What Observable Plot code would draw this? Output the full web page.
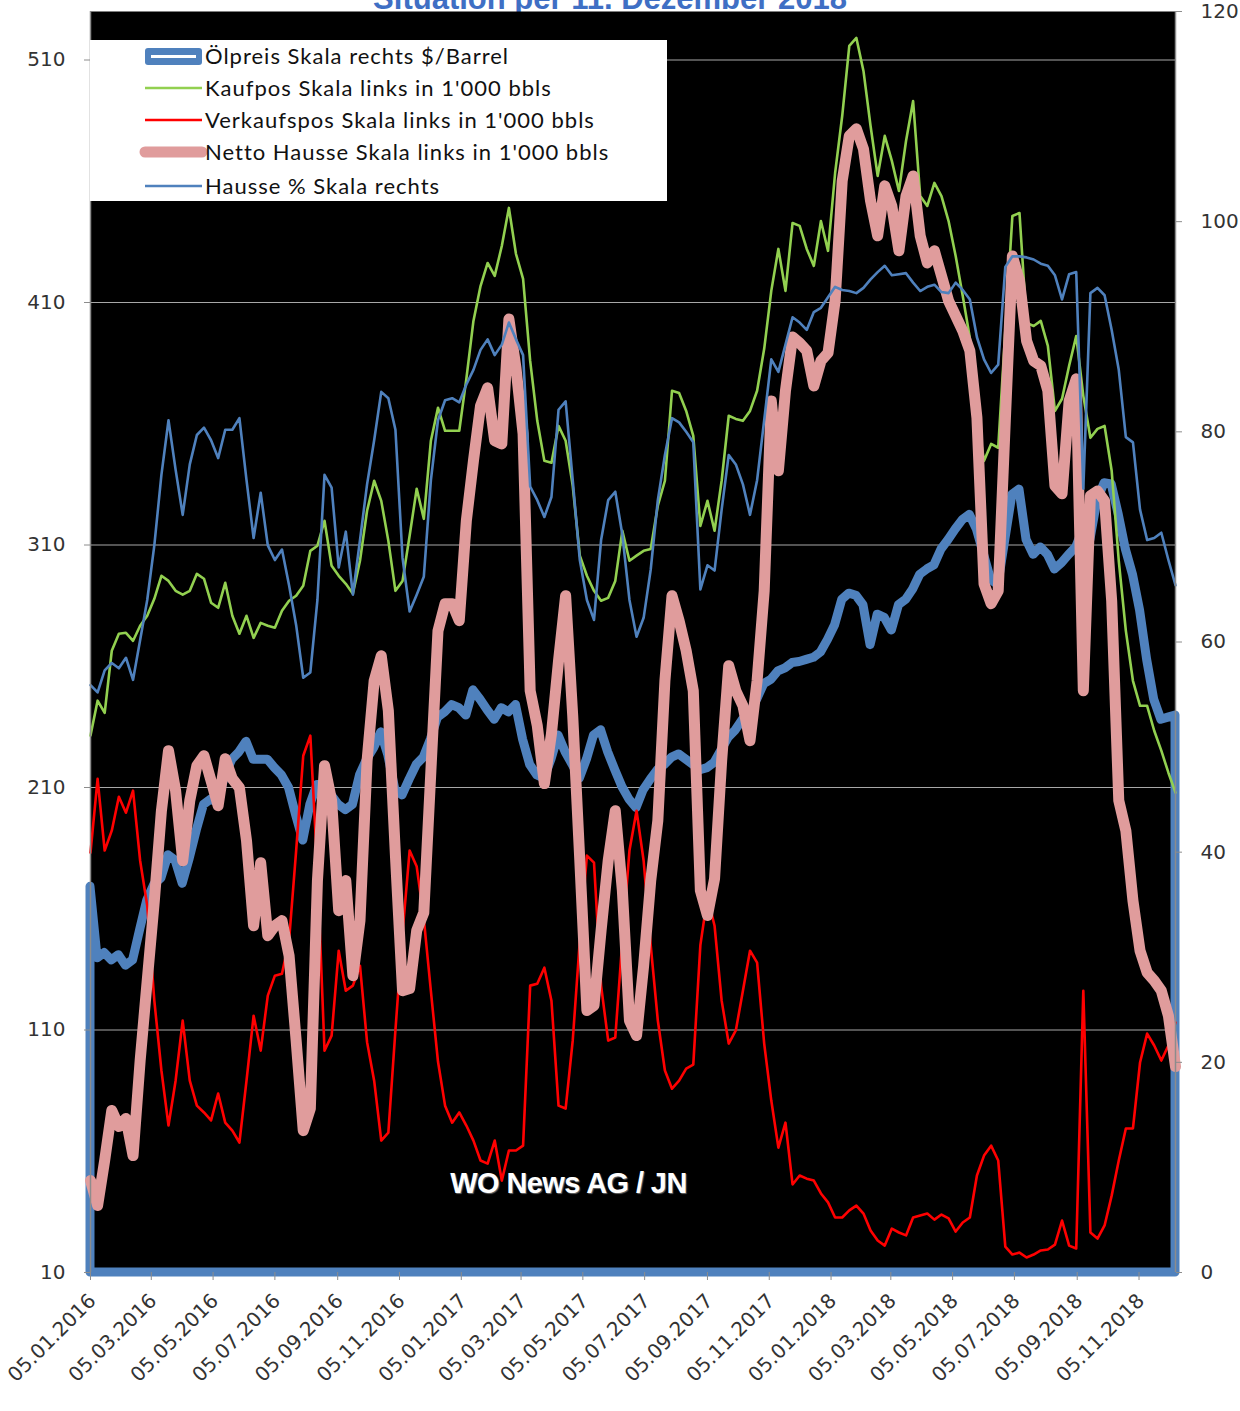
<!DOCTYPE html>
<html><head><meta charset="utf-8">
<script src="https://cdn.jsdelivr.net/npm/d3@7"></script>
<script src="https://cdn.jsdelivr.net/npm/@observablehq/plot@0.6"></script>
<style>
body{margin:0;background:#fff;}
#wrap{position:relative;width:1240px;height:1411px;overflow:hidden;background:#fff;}
#title{position:absolute;left:0;width:1220px;top:-19px;text-align:center;font:bold 31px "Liberation Sans",Arial,sans-serif;color:#3f6fc4;white-space:nowrap;}
#chart{position:absolute;left:0;top:0;}
#legend{position:absolute;left:90px;top:40px;}
#wm{position:absolute;left:0;width:1137px;top:1167px;text-align:center;font:bold 29px "Liberation Sans",Arial,sans-serif;letter-spacing:-0.6px;color:#fff;text-shadow:1px 1px 1px #666;}
</style></head><body><div id="wrap"><div id="title"></div><div id="chart"></div><div id="legend"></div><div id="wm"></div></div>
<script>
const startDate = "2016-01-05";
const endDate = "2018-12-11";
const titleText = "Situation per 11. Dezember 2018";
const watermarkText = "WO News AG / JN";
const legendLabels = ["Ölpreis Skala rechts $/Barrel","Kaufpos Skala links in 1'000 bbls","Verkaufspos Skala links in 1'000 bbls","Netto Hausse Skala links in 1'000 bbls","Hausse % Skala rechts"];
const leftTicks = [10,110,210,310,410,510];
const rightTicks = [0,20,40,60,80,100,120];
const xTickLabels = ["05.01.2016","05.03.2016","05.05.2016","05.07.2016","05.09.2016","05.11.2016","05.01.2017","05.03.2017","05.05.2017","05.07.2017","05.09.2017","05.11.2017","05.01.2018","05.03.2018","05.05.2018","05.07.2018","05.09.2018","05.11.2018"];

// weekly values, right scale ($/Barrel)
const oilPrice = [36.7,29.9,30.4,29.7,30.2,29.2,29.7,32.6,35.4,36.9,
37.5,39.7,39.2,37.0,39.4,42.1,44.5,45.0,44.7,47.3,
48.8,49.5,50.5,48.8,48.8,48.8,48.0,47.3,46.1,43.5,
41.1,44.5,46.4,46.4,45.4,44.5,44.0,44.5,47.3,48.8,
49.9,51.4,49.2,45.9,45.4,46.9,48.3,49.0,50.7,52.8,
53.3,54.0,53.7,53.0,55.4,54.5,53.5,52.6,53.7,53.3,
54.0,50.7,48.3,47.3,47.0,48.8,51.1,49.5,48.3,47.0,
48.8,51.1,51.6,49.5,47.8,46.2,45.0,44.2,45.9,46.9,
47.8,48.3,49.0,49.3,48.8,48.3,47.8,48.0,48.5,49.7,
50.9,51.6,52.6,53.2,54.5,56.0,56.4,57.2,57.5,58.0,
58.1,58.3,58.5,59.0,60.2,61.6,64.0,64.6,64.4,63.5,
59.7,62.6,62.3,61.1,63.5,64.0,65.0,66.4,66.9,67.3,
68.8,69.7,70.7,71.6,72.1,70.7,68.3,65.9,65.4,69.7,
74.0,74.5,69.7,68.3,69.0,68.3,66.9,67.5,68.3,69.0,
70.7,69.7,73.5,75.1,75.0,72.1,68.8,66.4,63.0,58.3,
54.5,52.6,52.8,53.0];
// left scale, 1'000 bbls
const kaufpos = [231.4,245.8,240.8,266.4,273.4,273.8,270.5,276.7,280.8,287.8,
297.3,295.2,291.1,289.5,291.1,298.1,296.1,286.2,284.1,294.4,
280.8,273.4,280.8,271.7,277.9,276.7,275.9,282.9,287.0,289.1,
293.2,307.6,309.7,320.0,301.4,297.3,294.0,289.9,303.5,324.1,
336.5,328.2,311.7,291.1,295.2,313.8,333.2,320.8,353.0,366.6,
357.1,357.1,357.1,378.5,402.4,416.8,426.3,421.0,433.3,449.0,
430.0,419.7,385.9,361.2,344.7,343.9,359.1,353.0,334.4,305.6,
297.3,291.1,287.0,288.2,295.2,315.9,303.5,305.6,307.6,308.4,
326.2,336.5,373.6,372.7,365.3,355.0,317.9,328.2,315.9,336.5,
363.3,362.0,361.2,365.3,373.6,390.9,414.8,432.1,414.8,442.8,
441.6,432.1,425.1,443.6,431.3,463.4,486.9,515.8,519.1,505.5,
482.8,462.2,478.7,468.4,456.0,476.6,493.1,453.9,449.8,459.3,
453.9,443.6,429.2,412.7,395.4,363.3,344.7,351.7,350.1,398.3,
445.7,446.9,401.6,400.3,402.4,392.1,365.3,370.3,383.9,396.2,
371.5,354.2,357.9,359.1,340.6,303.5,274.6,254.0,243.7,243.7,
233.4,225.2,216.1,207.9];
const verkaufspos = [183.1,213.6,184.0,192.2,206.2,199.6,208.7,179.8,161.3,122.1,
93.3,70.6,89.1,113.9,89.1,78.8,76.0,72.7,83.8,71.8,
68.5,63.6,89.1,115.9,101.5,124.2,132.4,133.2,146.9,184.0,
223.1,231.4,175.7,101.5,107.7,142.7,126.2,128.3,136.5,105.0,
89.1,64.4,67.7,110.0,150.0,184.0,177.4,155.9,126.0,97.0,
78.8,71.8,76.0,70.6,64.4,56.2,54.9,64.4,47.9,60.3,
60.3,62.3,128.3,129.1,135.7,122.1,78.8,77.6,105.6,146.9,
181.9,179.0,128.3,105.6,106.9,146.9,184.0,200.4,179.8,144.8,
113.9,93.3,85.8,89.1,94.1,95.7,145.0,165.0,153.0,122.1,
104.4,109.8,126.2,142.7,137.8,104.4,80.9,61.5,71.8,46.3,
50.0,48.7,47.9,42.6,38.9,32.7,32.7,35.6,37.6,34.3,
27.3,23.2,21.1,28.1,26.5,25.3,32.7,33.5,34.3,31.8,
33.9,32.3,26.9,30.6,32.7,50.0,58.2,62.3,56.2,20.7,
17.4,18.2,16.2,17.4,19.1,19.5,21.5,31.4,21.1,19.9,
126.2,26.5,24.0,29.4,41.7,56.2,69.4,69.4,96.6,108.5,
103.6,97.4,103.6,113.1];
const nettoHausse = [47.9,37.6,56.2,76.8,70.2,73.5,58.2,97.4,130.4,163.3,
200.4,225.2,208.7,179.8,204.6,219.0,223.1,212.8,202.5,221.9,
213.6,209.9,188.1,153.0,179.0,148.9,153.0,155.1,140.7,105.6,
68.5,77.6,171.6,219.0,204.6,159.2,171.6,132.4,155.1,221.0,
254.0,264.3,241.7,181.9,126.2,127.1,151.0,158.4,216.9,274.6,
285.8,285.8,278.8,320.0,344.7,367.4,374.8,353.0,351.7,403.2,
383.0,355.8,249.9,235.5,211.6,232.2,262.3,289.1,239.6,179.8,
118.0,120.1,151.0,179.8,200.4,167.5,113.9,107.7,136.5,171.6,
196.3,254.0,289.1,278.8,266.4,249.9,167.5,157.2,172.4,221.0,
260.2,249.9,243.7,229.3,254.0,291.1,369.4,340.6,373.6,395.8,
393.3,390.1,375.6,385.9,389.2,410.7,460.1,478.7,481.6,473.3,
451.9,437.5,458.1,449.8,431.3,453.9,462.2,437.5,426.3,431.3,
421.0,410.7,404.5,398.3,390.1,362.4,294.0,285.8,291.1,361.2,
429.2,418.9,394.2,385.9,383.9,373.6,334.4,331.1,369.4,378.5,
249.9,330.3,332.3,328.2,287.0,204.6,192.2,163.3,142.7,133.7,
130.4,126.2,115.9,94.9];
// right scale, %
const haussePct = [55.9,55.2,57.3,58.0,57.5,58.5,56.4,60.2,64.0,69.2,
75.9,81.1,76.4,72.1,76.9,79.7,80.4,79.2,77.5,80.2,
80.2,81.3,75.4,69.9,74.2,69.2,67.8,68.8,65.4,61.6,
56.6,57.1,64.0,75.9,74.7,67.1,70.5,64.5,69.7,75.0,
79.2,83.8,83.2,80.2,68.0,62.9,64.5,66.2,75.4,81.1,
83.0,83.2,82.8,84.5,85.9,87.8,88.8,87.3,88.3,90.4,
88.8,87.3,74.8,73.5,71.9,73.8,82.1,82.9,75.4,67.8,
64.0,62.1,69.7,73.5,74.3,70.2,64.0,60.5,62.3,66.9,
73.5,77.8,81.3,80.9,80.0,79.0,65.0,67.3,66.8,72.6,
77.8,76.9,75.0,72.1,75.4,81.1,86.9,85.7,88.3,90.9,
90.4,89.7,91.4,91.8,92.8,93.8,93.5,93.4,93.2,93.7,
94.5,95.2,95.8,94.9,95.0,95.1,94.2,93.4,93.8,94.0,
93.3,93.2,94.2,93.5,92.6,89.0,86.9,85.6,86.4,95.7,
96.7,96.7,96.6,96.4,96.0,95.8,94.9,92.6,95.0,95.2,
74.6,93.2,93.7,93.0,89.7,85.9,79.5,79.0,72.6,69.7,
69.9,70.4,67.8,65.4];

const t0 = new Date(startDate), t1 = new Date(endDate);
const data = oilPrice.map((v, i) => ({
  date: d3.utcDay.offset(t0, 7 * i),
  oil: v, kauf: kaufpos[i], verkauf: verkaufspos[i], netto: nettoHausse[i], hausse: haussePct[i]
}));
// right axis (0..120) shares the plot with the left axis (10..530)
const yLo = 10, yHi = 530, rMax = 120;
const toLeft = r => yLo + r * (yHi - yLo) / rMax;
const fromLeft = v => (v - yLo) * rMax / (yHi - yLo);
const parse = d3.utcParse("%d.%m.%Y"), fmt = d3.utcFormat("%d.%m.%Y");
const xTicks = xTickLabels.map(parse);

const C = {oil:"#4f81bd", kauf:"#92d050", verkauf:"#ff0000", netto:"#e09c9c", hausse:"#4f81bd"};

const plot = Plot.plot({
  width: 1240, height: 1411,
  marginLeft: 90, marginRight: 65, marginTop: 11, marginBottom: 139,
  style: {background: "transparent", fontFamily: "DejaVu Sans, sans-serif", fontSize: "20px", color: "#333"},
  x: {type: "utc", domain: [t0, t1]},
  y: {domain: [yLo, yHi]},
  marks: [
    Plot.frame({fill: "black"}),
    Plot.gridY(leftTicks.slice(1), {stroke: "#a8a8a8", strokeOpacity: 1, strokeWidth: 1.2}),
    Plot.areaY(data, {x: "date", y1: yLo, y2: d => toLeft(d.oil), fill: "none", stroke: C.oil, strokeWidth: 9, strokeLinejoin: "round"}),
    Plot.lineY(data, {x: "date", y: "kauf", stroke: C.kauf, strokeWidth: 2.6}),
    Plot.lineY(data, {x: "date", y: "verkauf", stroke: C.verkauf, strokeWidth: 2.6}),
    Plot.lineY(data, {x: "date", y: "netto", stroke: C.netto, strokeWidth: 11, strokeLinejoin: "round", strokeLinecap: "round"}),
    Plot.lineY(data, {x: "date", y: d => toLeft(d.hausse), stroke: C.hausse, strokeWidth: 2.6}),
    Plot.ruleX([t0, t1], {stroke: "#8c8c8c", strokeWidth: 1.5}),
    Plot.axisY({ticks: leftTicks, anchor: "left", tickSize: 6, tickPadding: 19, label: null, stroke: "#8c8c8c", fill: "#333", fontSize: 20}),
    Plot.axisY({ticks: rightTicks.map(toLeft), tickFormat: v => String(Math.round(fromLeft(v))), anchor: "right", tickSize: 6, tickPadding: 19, label: null, stroke: "#8c8c8c", fill: "#333", fontSize: 20}),
    // tick marks at the exact dates
    Plot.axisX({ticks: xTicks, tickFormat: () => "", tickSize: 8, label: null, stroke: "#8c8c8c"}),
    // rotated date labels, nudged slightly right
    Plot.axisX({ticks: xTicks, tickFormat: fmt, tickRotate: -45, tickSize: 0, tickPadding: 25, dx: 2, label: null, fill: "#333", fontSize: 20})
  ]
});
document.getElementById("chart").appendChild(plot);
document.getElementById("title").textContent = titleText;
document.getElementById("wm").textContent = watermarkText;

// legend
const lg = d3.select("#legend").append("svg").attr("width", 577).attr("height", 161);
lg.append("rect").attr("width", 577).attr("height", 161).attr("fill", "#fff");
const rowY = [16, 48, 80, 112, 146];
const sx0 = 55, sx1 = 112;
// oil sample: blue box with white line
lg.append("rect").attr("x", sx0).attr("y", rowY[0] - 8).attr("width", sx1 - sx0).attr("height", 17).attr("rx", 3).attr("fill", C.oil);
lg.append("line").attr("x1", sx0 + 6).attr("x2", sx1 - 6).attr("y1", rowY[0] + 0.5).attr("y2", rowY[0] + 0.5).attr("stroke", "#fff").attr("stroke-width", 3);
const sampleStyle = [null, [C.kauf, 2.6], [C.verkauf, 2.6], [C.netto, 11], [C.hausse, 2.6]];
for (let i = 1; i < 5; i++) {
  lg.append("line").attr("x1", sx0).attr("x2", sx1).attr("y1", rowY[i]).attr("y2", rowY[i])
    .attr("stroke", sampleStyle[i][0]).attr("stroke-width", sampleStyle[i][1]).attr("stroke-linecap", i === 3 ? "round" : "butt");
}
legendLabels.forEach((t, i) => {
  lg.append("text").attr("x", 115).attr("y", rowY[i]).attr("dy", "0.36em")
    .attr("font-family", "Lato, sans-serif").attr("font-size", 22).attr("letter-spacing", "1px").attr("fill", "#111").text(t);
});
</script></body></html>
